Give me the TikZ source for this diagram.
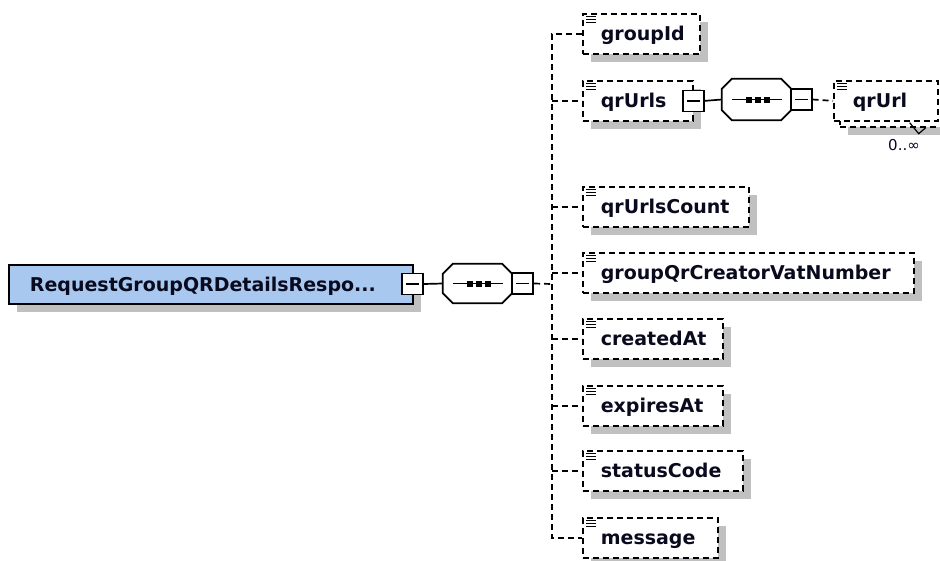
\documentclass[tikz,border=0pt]{standalone}
\usepackage{fontspec}
\setmainfont{DejaVu Sans}
\usetikzlibrary{calc,shadows}
\definecolor{elemblue}{RGB}{168,200,240}
\definecolor{shadowgray}{RGB}{192,192,192}
\definecolor{txtdark}{RGB}{10,10,30}
\tikzset{
  conn/.style={line width=1.7pt, dash pattern=on 6pt off 4pt},
  solidconn/.style={line width=1.7pt},
  shad/.style={drop shadow={shadow xshift=8pt, shadow yshift=-8pt, fill=shadowgray, opacity=1}},
  elembox/.style={draw, line width=1.7pt, dash pattern=on 6pt off 4pt, fill=white,
    minimum height=40pt, anchor=north west, align=left, inner xsep=18pt, inner ysep=0pt,
    text height=16pt, text depth=2pt, text=txtdark, font=\fontsize{19}{22}\selectfont\bfseries},
  rootbox/.style={draw, line width=1.9pt, fill=elemblue, shad,
    minimum height=39pt, anchor=north west, align=left, inner xsep=21pt, inner ysep=0pt,
    text height=16pt, text depth=2pt, text=txtdark, font=\fontsize{19}{22}\selectfont\bfseries},
  sqbox/.style={draw, line width=1.7pt, fill=white, minimum size=21pt, inner sep=0pt,
    path picture={\draw[line width=1.5pt] ([xshift=4pt]path picture bounding box.west) -- ([xshift=-4pt]path picture bounding box.east);}},
  seqanchor/.style={inner sep=0pt, minimum width=69pt, minimum height=#1},
  octo/.style={draw, line width=1.7pt, fill=white},
  annot/.style={line width=1pt},
}
\newcommand{\octpath}[1]{($(#1.north west)+(10,0)$) -- ($(#1.north east)+(-10,0)$) -- ($(#1.north east)+(0,10)$) -- ($(#1.south east)+(0,-10)$) -- ($(#1.south east)+(-10,0)$) -- ($(#1.south west)+(10,0)$) -- ($(#1.south west)+(0,-10)$) -- ($(#1.north west)+(0,10)$) -- cycle}
\newcommand{\drawseq}[1]{%
  \fill[shadowgray, shift={(8,8)}] \octpath{#1};
  \draw[octo] \octpath{#1};
  \draw[line width=1.6pt] ($(#1.west)+(10,0)$) -- ($(#1.east)+(-9,0)$);
  \foreach \dx in {-8,1,10} {\fill ($(#1.center)+(\dx-3,-3)$) rectangle ++(6,6);}
}
\newcommand{\annoticon}[1]{%
  \foreach \dy in {3,6,9} {\draw[annot] ($(#1.north west)+(4,\dy)$) -- ++(10,0);}
}
\begin{document}
\begin{tikzpicture}[x=1pt,y=-1pt]
\useasboundingbox[fill=white] (0,0) rectangle (940,560);

% root element
\node[rootbox, text width=362pt] (root) at (8,264) {RequestGroupQRDetailsRespo...};
\node[sqbox] (rsq) at (412.5,284) {};

% sequence compositor
\node[seqanchor=39pt] (seq) at (477.5,283.5) {};
\drawseq{seq}
\node[sqbox] (ssq) at ($(seq.east)+(10.5,0)$) {};
\coordinate (trunk) at (552,284);

% children
\node[elembox, shad, text width=81pt] (gid) at (582,13) {groupId};
\node[elembox, shad, text width=74pt] (qru) at (582,80) {qrUrls};
\node[elembox, shad, text width=130pt] (qrc) at (582,186) {qrUrlsCount};
\node[elembox, shad, text width=295pt] (vat) at (582,252) {groupQrCreatorVatNumber};
\node[elembox, shad, text width=104pt] (cre) at (582,318) {createdAt};
\node[elembox, shad, text width=104pt] (exp) at (582,385) {expiresAt};
\node[elembox, shad, text width=124pt] (sta) at (582,450) {statusCode};
\node[elembox, shad, text width=99pt] (msg) at (582,517) {message};
\foreach \n in {gid,qru,qrc,vat,cre,exp,sta,msg} {\annoticon{\n}}

% qrUrls sub-structure
\node[sqbox] (usq) at (qru.east) {};
\node[seqanchor=41pt] (seq2) at (756.5,99.5) {};
\drawseq{seq2}
\node[sqbox] (ssq2) at ($(seq2.east)+(10,0)$) {};
\node[elembox, shad, text width=66pt, inner xsep=19pt] (qrl2) at (839,86) {\phantom{qrUrl}};
\node[elembox, text width=66pt, inner xsep=19pt] (qrl) at (833,80) {qrUrl};
\annoticon{qrl}
\draw[line width=1.2pt] ($(qrl.south east)+(-29,1)$) -- ++(9,11) -- ++(7,-6);
\node[font=\fontsize{15}{18}\selectfont, text=txtdark, inner sep=0pt] (mult) at (904,145) {0..∞};

% connectors
\draw[solidconn] (rsq.east) -- (seq.west);
\draw[conn] (ssq.east) -- (trunk);
\draw[conn] (gid.west) -- (gid.west -| trunk) -- (msg.west -| trunk) -- (msg.west);
\foreach \n in {qru,qrc,vat,cre,exp,sta} {\draw[conn] (\n.west -| trunk) -- (\n.west);}
\draw[solidconn] (usq.east) -- (seq2.west);
\draw[conn] (ssq2.east) -- (qrl.west);
\end{tikzpicture}
\end{document}
